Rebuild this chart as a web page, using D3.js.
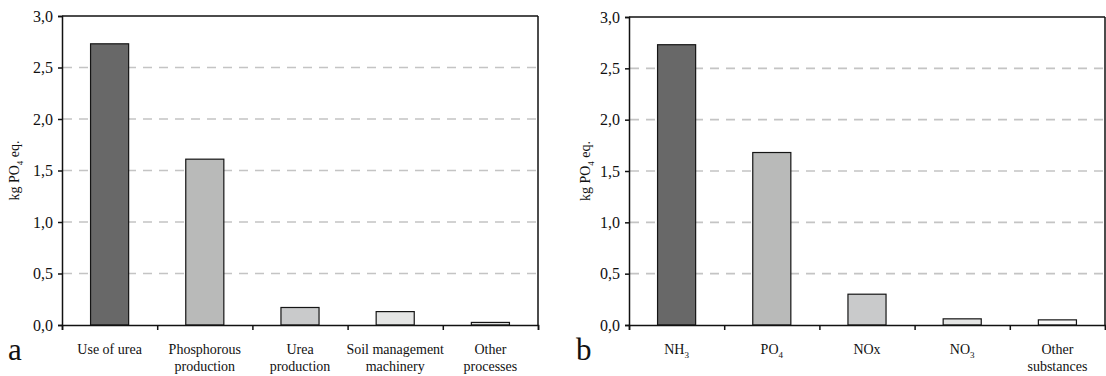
<!DOCTYPE html>
<html>
<head>
<meta charset="utf-8">
<script src="https://cdn.jsdelivr.net/npm/d3@7"></script>
<style>
  body { margin: 0; background: #fff; }
  svg text { font-family: "Liberation Serif", "Times New Roman", serif; fill: #111; }
</style>
</head>
<body>
<div id="chart"></div>
<script>
// Valeurs
// {x} = indice
const categoriesA = [["Use of urea"], ["Phosphorous", "production"], ["Urea", "production"], ["Soil management", "machinery"], ["Other", "processes"]];
const valuesA = [2.73, 1.61, 0.17, 0.13, 0.025];
const categoriesB = [["NH{3}"], ["PO{4}"], ["NOx"], ["NO{3}"], ["Other", "substances"]];
const valuesB = [2.73, 1.68, 0.30, 0.06, 0.05];
const yTicks = [0, 0.5, 1.0, 1.5, 2.0, 2.5, 3.0];
const yLabel = "kg PO{4} eq.";
const panelLetters = ["a", "b"];

const fillsA = ["#686868", "#b9bab9", "#c9cacb", "#e4e5e4", "#e4e5e4"];
const fillsB = ["#686868", "#b9bab9", "#c9cacb", "#e4e5e4", "#f9f9f9"];

const width = 1106, height = 376;

const svg = d3.select("#chart")
  .append("svg")
    .attr("width", width)
    .attr("height", height);

// virgule décimale
const fmt = d3.formatLocale({decimal: ",", thousands: ".", grouping: [3], currency: ["", ""]}).format(".1f");

// écrit un texte avec indices {x}
function richText(sel, str, subSize, subDy) {
  const parts = str.split(/(\{[^}]*\})/).filter(s => s.length);
  parts.forEach(p => {
    if (p[0] === "{") {
      sel.append("tspan").attr("font-size", subSize).attr("dy", subDy).text(p.slice(1, -1));
    } else {
      const t = sel.append("tspan").text(p);
      if (sel.selectAll("tspan").size() > 1) t.attr("dy", -subDy);
    }
  });
}

function drawPanel(cfg) {
  const g = svg.append("g");
  const x0 = cfg.left, x1 = cfg.left + 476;
  const yTop = cfg.top, yBot = 325;

  const x = d3.scaleBand()
    .domain(d3.range(cfg.values.length))
    .range([x0, x1])
    .paddingInner(0.6)
    .paddingOuter(0.3);

  const y = d3.scaleLinear()
    .domain([0, 3])
    .range([yBot, yTop]);

  // quadrillage en tirets
  g.selectAll(".grid")
    .data(yTicks.filter(d => d > 0 && d < 3))
    .join("line")
      .attr("x1", x0 + 1)
      .attr("x2", x1)
      .attr("y1", d => y(d))
      .attr("y2", d => y(d))
      .attr("stroke", "#c4c4c4")
      .attr("stroke-width", 1.6)
      .attr("stroke-dasharray", "9,7");

  // barres
  g.selectAll(".bar")
    .data(cfg.values)
    .join("rect")
      .attr("x", (d, i) => x(i))
      .attr("y", d => y(d))
      .attr("width", x.bandwidth())
      .attr("height", d => yBot - y(d))
      .attr("fill", (d, i) => cfg.fills[i])
      .attr("stroke", "#151515")
      .attr("stroke-width", 1.2);

  // cadre haut et droite
  g.append("line").attr("x1", x0).attr("x2", x1).attr("y1", yTop).attr("y2", yTop)
    .attr("stroke", "#111").attr("stroke-width", 1.5);
  g.append("line").attr("x1", x1).attr("x2", x1).attr("y1", yTop).attr("y2", yBot)
    .attr("stroke", "#111").attr("stroke-width", 1.5);

  // axe Y
  const yAxis = g.append("g")
    .attr("transform", `translate(${x0},0)`)
    .call(d3.axisLeft(y).tickValues(yTicks).tickFormat(fmt).tickSize(4).tickPadding(5));
  yAxis.select(".domain").attr("stroke", "#111").attr("stroke-width", 1.5);
  yAxis.selectAll(".tick line").attr("stroke", "#111").attr("stroke-width", 1.5);
  yAxis.selectAll("text").attr("font-size", 16).attr("font-family", "Liberation Serif").attr("fill", "#111");

  // axe X : traits aux limites des catégories
  const slots = d3.scaleLinear().domain([0, cfg.values.length]).range([x0, x1]);
  const xAxis = g.append("g")
    .attr("transform", `translate(0,${yBot})`)
    .call(d3.axisBottom(slots).tickValues(d3.range(cfg.values.length + 1)).tickSize(5).tickFormat(""));
  xAxis.select(".domain").attr("stroke", "#111").attr("stroke-width", 1.5);
  xAxis.selectAll(".tick line").attr("stroke", "#111").attr("stroke-width", 1.5);

  // étiquettes des catégories
  cfg.categories.forEach((lines, i) => {
    lines.forEach((line, j) => {
      const t = g.append("text")
        .attr("x", x(i) + x.bandwidth() / 2)
        .attr("y", 354 + j * 17)
        .attr("text-anchor", "middle")
        .attr("font-size", 14);
      richText(t, line, 9, 4);
    });
  });

  // titre axe Y
  const lab = g.append("text")
    .attr("transform", `translate(${cfg.labelX},${(yTop + yBot) / 2}) rotate(-90)`)
    .attr("text-anchor", "middle")
    .attr("font-size", 14);
  richText(lab, yLabel, 9, 4);

  // lettre du panneau
  g.append("text")
    .attr("x", cfg.letterX)
    .attr("y", 360)
    .attr("font-size", 31)
    .text(cfg.letter);
}

drawPanel({left: 62, top: 16, values: valuesA, categories: categoriesA, fills: fillsA, labelX: 19, letter: panelLetters[0], letterX: 8});
drawPanel({left: 629, top: 17, values: valuesB, categories: categoriesB, fills: fillsB, labelX: 590, letter: panelLetters[1], letterX: 576});
</script>
</body>
</html>
